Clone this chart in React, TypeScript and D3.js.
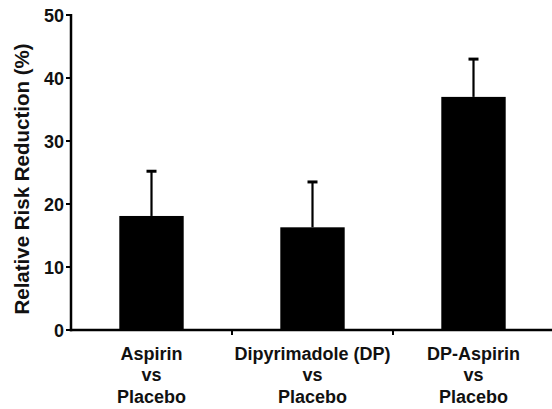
import * as d3 from 'd3';

const categories = ['Aspirin|vs|Placebo', 'Dipyrimadole (DP)|vs|Placebo', 'DP-Aspirin|vs|Placebo'];
const values = [18.1, 16.3, 37.0];
const errorTops = [25.2, 23.5, 43.0];
const yTicks = [0, 10, 20, 30, 40, 50];

export default function App() {
  const width = 552;
  const height = 409;
  const axisX = 71;
  const axisY = 330;

  const x = d3.scaleBand<string>().domain(categories).range([axisX, axisX + 483]).paddingInner(0.6).paddingOuter(0.3);
  const y = d3.scaleLinear().domain([0, 50]).range([axisY, 15]);
  const step = x.step();
  const font = '"Liberation Sans", Arial, Helvetica, sans-serif';

  return (
    <div style={{ position: 'absolute', left: 0, top: 0, background: '#fff' }}>
      <svg width={width} height={height} style={{ display: 'block' }} fontFamily={font} fontWeight="bold">
        {categories.map((c, i) => {
          const cx = (x(c) ?? 0) + x.bandwidth() / 2;
          return (
            <g key={c}>
              <rect x={x(c)} y={y(values[i])} width={x.bandwidth()} height={axisY - y(values[i])} fill="#000" />
              <line x1={cx} x2={cx} y1={y(values[i])} y2={y(errorTops[i])} stroke="#000" strokeWidth={2.2} />
              <line x1={cx - 5} x2={cx + 5} y1={y(errorTops[i])} y2={y(errorTops[i])} stroke="#000" strokeWidth={3} />
              {c.split('|').map((line, j) => (
                <text key={j} x={cx} y={359.5 + j * 21.8} textAnchor="middle" fontSize={18} fill="#111">
                  {line}
                </text>
              ))}
            </g>
          );
        })}
        {categories.slice(1).map((c) => (
          <line key={c} x1={(x(c) ?? 0) - (step - x.bandwidth()) / 2} x2={(x(c) ?? 0) - (step - x.bandwidth()) / 2} y1={axisY} y2={axisY + 5} stroke="#000" strokeWidth={2} />
        ))}
        {yTicks.map((t) => (
          <g key={t}>
            <line x1={axisX - 5} x2={axisX} y1={y(t)} y2={y(t)} stroke="#000" strokeWidth={2} />
            <text x={axisX - 7} y={y(t) + 6.5} textAnchor="end" fontSize={18} fill="#111">
              {t}
            </text>
          </g>
        ))}
        <line x1={axisX} x2={axisX} y1={y(50) - 1} y2={axisY + 1.2} stroke="#000" strokeWidth={2.5} />
        <line x1={axisX - 1.2} x2={552} y1={axisY} y2={axisY} stroke="#000" strokeWidth={2.5} />
        <text transform={`translate(28.5,179) rotate(-90)`} textAnchor="middle" fontSize={20.5} fill="#111">
          Relative Risk Reduction (%)
        </text>
      </svg>
    </div>
  );
}
